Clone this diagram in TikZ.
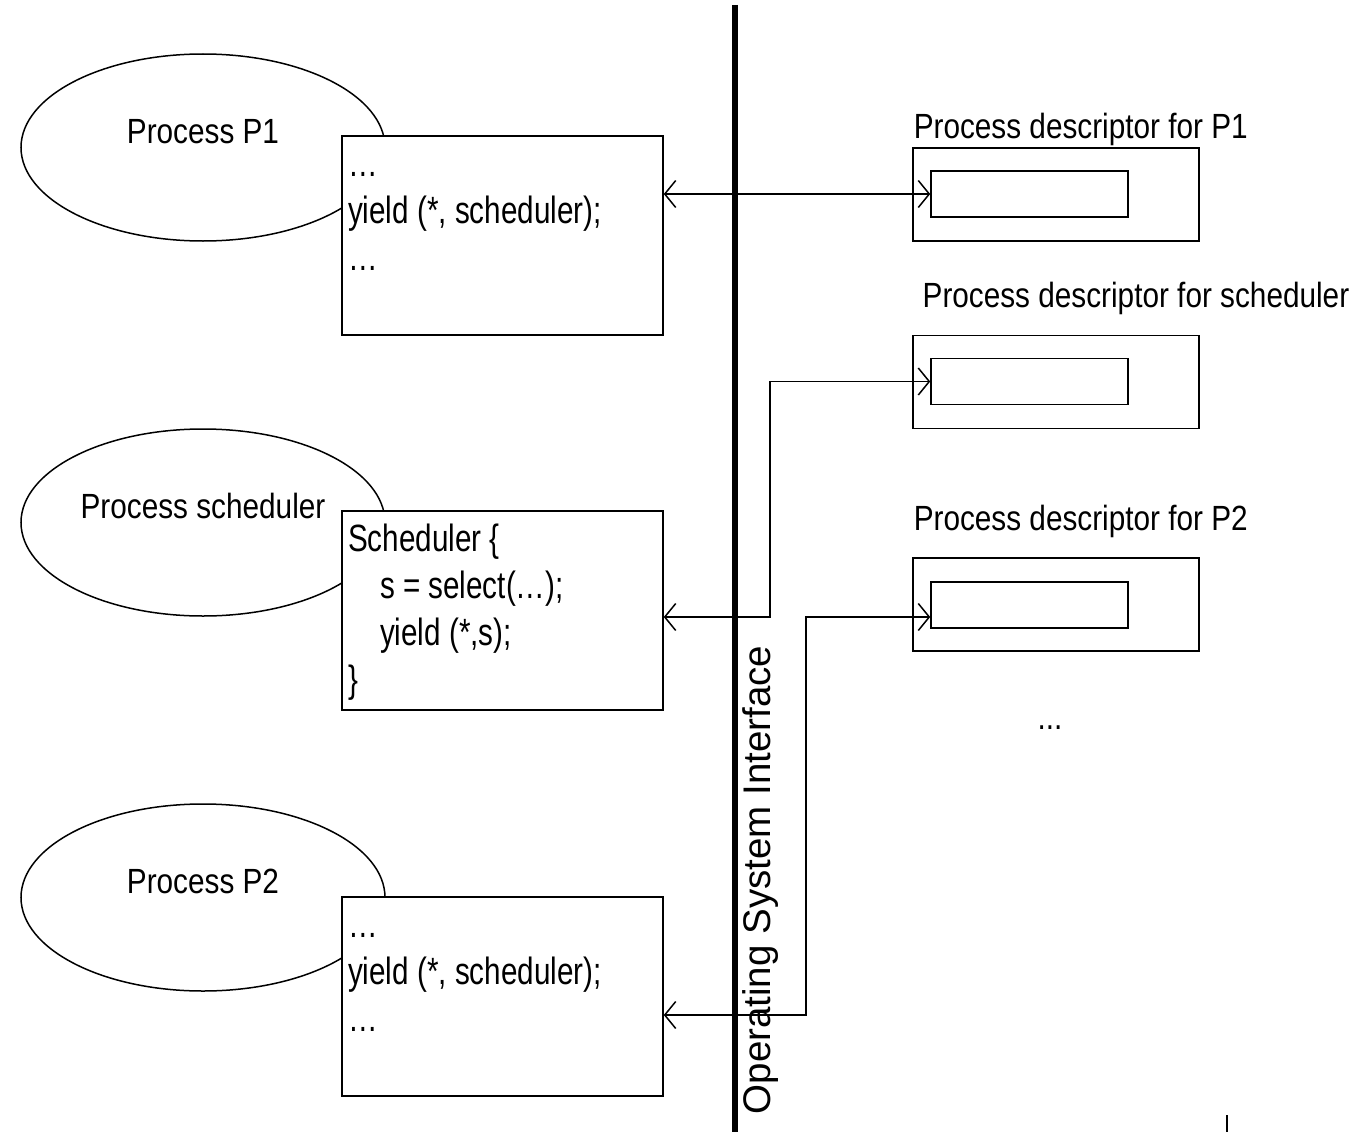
\documentclass[tikz,border=0pt]{standalone}
\usepackage{fontspec}
\setmainfont{Liberation Sans}
\newfontfamily\codefont{Liberation Sans}[FakeStretch=0.78]
\newfontfamily\namefont{Liberation Sans}[FakeStretch=0.85]
\usetikzlibrary{shapes.geometric, arrows.meta, calc}

\begin{document}
\begin{tikzpicture}[x=1pt, y=-1pt, line width=1.5pt,
  proc/.style={ellipse, draw, minimum width=364pt, minimum height=187pt, inner sep=0pt},
  codebox/.style={rectangle, draw, fill=white, minimum width=321pt, minimum height=199pt, inner sep=0pt},
  descbox/.style={rectangle, draw, minimum width=286pt, minimum height=93pt, inner sep=0pt},
  slot/.style={rectangle, draw, minimum width=197pt, minimum height=46pt, inner sep=0pt},
  codetext/.style={anchor=north west, inner sep=0pt, align=left, font=\codefont\fontsize{38}{47}\selectfont},
  namelabel/.style={inner sep=0pt, font=\namefont\fontsize{35}{40}\selectfont},
  link/.style={{Straight Barb[length=11pt, width=27pt]}-{Straight Barb[length=11pt, width=27pt]}}
]
\useasboundingbox (0,0) rectangle (1357,1132);

% processes
\node[proc] (p1proc) at (203,147.5) {};
\node[proc] (schedproc) at (203,522.5) {};
\node[proc] (p2proc) at (203,897.5) {};
\node[namelabel, anchor=base] (p1name) at ($(p1proc.center)+(0,-4)$) {Process P1};
\node[namelabel, anchor=base] (schedname) at ($(schedproc.center)+(0,-4.5)$) {Process scheduler};
\node[namelabel, anchor=base] (p2name) at ($(p2proc.center)+(0,-4.5)$) {Process P2};

% their code
\node[codebox] (p1code) at (502.5,235.5) {};
\node[codebox] (schedcode) at (502.5,610.5) {};
\node[codebox] (p2code) at (502.5,996.5) {};
\node[codetext] (p1txt) at ($(p1code.north west)+(6,8)$) {\strut…\\yield (*, scheduler);\\…};
\node[codetext] (schedtxt) at ($(schedcode.north west)+(6,8)$)
  {\strut Scheduler \{\\\hspace*{32pt}s = select(…);\\\hspace*{32pt}yield (*,s);\\\}};
\node[codetext] (p2txt) at ($(p2code.north west)+(6,8)$) {\strut…\\yield (*, scheduler);\\…};

% descriptors
\node[descbox] (d1box) at (1056,194.5) {};
\node[slot] (d1in) at (1029.5,194) {};
\node[descbox] (dsbox) at (1056,382) {};
\node[slot] (dsin) at (1029.5,381.5) {};
\node[descbox] (d2box) at (1056,604.5) {};
\node[slot] (d2in) at (1029.5,605) {};
\node[namelabel, anchor=base west] (d1name) at (913,138) {Process descriptor for P1};
\node[namelabel, anchor=base east] (dsname) at (1350,307) {Process descriptor for scheduler};
\node[namelabel, anchor=base west] (d2name) at (913,530) {Process descriptor for P2};
\node[namelabel, anchor=base] (more) at (1050,729) {...};

% links across the interface
\coordinate (bendS) at (770,617);
\coordinate (bendA) at (806,617);
\coordinate (bendB) at (806,1015);
\draw[link] (d1in.west -| p1code.east) -- (d1in.west);
\draw[link] (bendS -| schedcode.east) -- (bendS) |- (dsin.west);
\draw[link] (bendB -| p2code.east) -- (bendB) -- (bendA) -- (bendA -| d2in.west);

% the interface
\draw[line width=6pt] (735,5) -- (735,1132);
\node[rotate=90, anchor=base, inner sep=0pt, font=\fontsize{38.5}{46}\selectfont] (osi) at (770,880) {Operating System Interface};
\draw[line width=2pt] (1227,1115) -- (1227,1132);
\end{tikzpicture}
\end{document}
